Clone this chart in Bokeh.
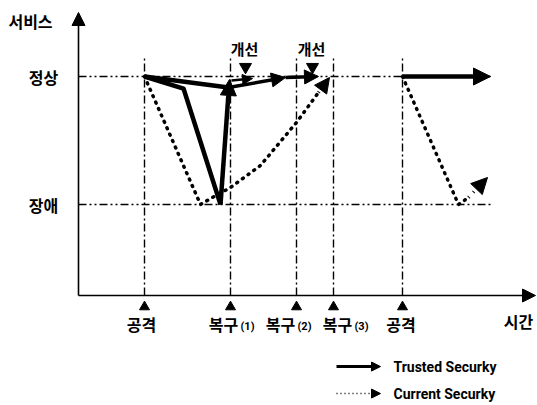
from bokeh.plotting import figure
from bokeh.models import Range1d, Arrow, NormalHead, ColumnDataSource
from bokeh.core.properties import value
from bokeh.embed import file_html
from bokeh.resources import INLINE

# ---------------- data (time units, service level: 1 = 정상, 0 = 장애) ----------------
event_t = [6.6, 15.2, 21.8, 25.5, 32.4]
event_names = ["공격", "복구", "복구", "복구", "공격"]
event_subs = ["", "(1)", "(2)", "(3)", ""]
improve_t = [16.7, 23.4]
improve_labels = ["개선", "개선"]
level_names = ["정상", "장애"]
level_values = [1.0, 0.0]

trusted_fall_t = [6.6, 10.5, 14.2]
trusted_fall_y = [1.0, 0.906, 0.0]
trusted_recover_t = [14.2, 15.1]
trusted_recover_y = [0.0, 0.977]
trusted_drift_t = [6.6, 15.0]
trusted_drift_y = [1.0, 0.914]
trusted_improve_t = [15.0, 20.7, 24.0]
trusted_improve_y = [0.914, 0.992, 1.0]
trusted_small_t = [15.3, 17.4]
trusted_small_y = [0.969, 0.984]
trusted_after_t = [32.4, 41.2]
trusted_after_y = [1.0, 1.0]

current_t = [6.6, 12.2, 13.4, 15.2, 18.2, 21.8, 24.0, 25.1]
current_y = [1.0, 0.0, 0.055, 0.133, 0.305, 0.641, 0.875, 0.992]
current2_t = [32.4, 38.0, 39.0, 40.9]
current2_y = [1.0, 0.0, 0.055, 0.211]

legend_names = ["Trusted Securky", "Current Securky"]

# ---------------- layout constants ----------------
AX_Y = -0.711        # x-axis baseline level
AX_TOP = 1.50        # y-axis arrow tip
AX_RIGHT = 45.7      # x-axis arrow tip
REF_END = 41.4       # end of reference dash-dot lines
VLINE_TOP = 1.164
TRI_UP_Y = -0.80
TRI_DN_Y = 1.075
LABEL_Y = -0.935
KFONT = value("Noto Sans CJK KR")
LFONT = value("Roboto")

p = figure(width=537, height=405, x_range=Range1d(-7.8, 45.9),
           y_range=Range1d(-1.5703, 1.5938), x_axis_type=None, y_axis_type=None,
           output_backend="svg", toolbar_location=None, min_border=0)
p.grid.visible = False
p.outline_line_color = None
p.background_fill_color = "white"


def arrow(t, y, width, dash="solid", headsize=16):
    src = ColumnDataSource(dict(x0=[t[-2]], y0=[y[-2]], x1=[t[-1]], y1=[y[-1]]))
    p.add_layout(Arrow(source=src, x_start="x0", y_start="y0", x_end="x1", y_end="y1",
                       line_width=width, line_color="black", line_dash=dash,
                       end=NormalHead(size=headsize, fill_color="black", line_color="black",
                                      line_width=1, line_dash="solid")))

# reference lines (levels)
for lv in level_values:
    p.line([0, REF_END], [lv, lv], line_color="black", line_width=1.4,
           line_dash="8 3 2 3 2 3")
# event vertical lines
for t in event_t:
    p.line([t, t], [AX_Y, VLINE_TOP], line_color="black", line_width=1.4,
           line_dash="8 3 2 3")

# axes
p.line([0, 0], [AX_Y, AX_TOP - 0.08], line_color="black", line_width=1.6)
arrow([0, 0], [AX_TOP - 0.1, AX_TOP], 1.6, headsize=13)
p.line([0, AX_RIGHT - 1], [AX_Y, AX_Y], line_color="black", line_width=1.6)
arrow([AX_RIGHT - 1.2, AX_RIGHT], [AX_Y, AX_Y], 1.6, headsize=13)

# Trusted security (thick solid)
p.line(trusted_fall_t, trusted_fall_y, line_color="black", line_width=4.5, line_join="round")
p.line(trusted_drift_t, trusted_drift_y, line_color="black", line_width=4.5, line_join="round")
arrow(trusted_recover_t, trusted_recover_y, 4.5, headsize=16)
arrow(trusted_improve_t[:2], trusted_improve_y[:2], 3.5, headsize=14)
arrow(trusted_improve_t[1:], trusted_improve_y[1:], 3.5, headsize=14)
arrow(trusted_small_t, trusted_small_y, 2.5, headsize=10)
arrow(trusted_after_t, trusted_after_y, 4.5, headsize=17)

# Current security (dotted)
p.line(current_t[:-1], current_y[:-1], line_color="black", line_width=3.5,
       line_dash="1 6", line_cap="round", line_join="round")
arrow(current_t[-2:], current_y[-2:], 3.5, dash="1 6", headsize=15)
p.line(current2_t[:-1], current2_y[:-1], line_color="black", line_width=3.5,
       line_dash="1 6", line_cap="round", line_join="round")
arrow(current2_t[-2:], current2_y[-2:], 3.5, dash="1 6", headsize=16)

# markers
p.scatter(event_t, [TRI_UP_Y] * len(event_t), marker="triangle", size=10,
          color="black")
p.scatter(improve_t, [TRI_DN_Y] * len(improve_t), marker="inverted_triangle", size=12,
          color="black")

# texts
label_dx = [-0.3, -0.7, -1.6, 0.4, -0.15]
main_x = [t + d for t, d in zip(event_t, label_dx)]
p.text(main_x, [LABEL_Y] * 5, text=event_names, text_font=KFONT,
       text_font_size="16px", text_font_style="bold", text_align="center",
       text_baseline="middle", text_color="black")
sub_x = [m + 1.7 for m in main_x]
p.text(sub_x[1:4], [LABEL_Y - 0.02] * 3, text=event_subs[1:4], text_font=LFONT,
       text_font_size="11px", text_font_style="bold", text_align="left",
       text_baseline="middle", text_color="black")
p.text([-3.5, -3.5], level_values, text=level_names, text_font=KFONT,
       text_font_size="16px", text_font_style="bold", text_align="center",
       text_baseline="middle", text_color="black")
p.text([-4.8], [1.43], text=["서비스"], text_font=KFONT, text_font_size="16px",
       text_font_style="bold", text_align="center", text_baseline="middle",
       text_color="black")
p.text([44.0], [-0.91], text=["시간"], text_font=KFONT, text_font_size="16px",
       text_font_style="bold", text_align="center", text_baseline="middle",
       text_color="black")
p.text([t - 0.1 for t in improve_t], [1.22, 1.22], text=improve_labels, text_font=KFONT,
       text_font_size="15px", text_font_style="bold", text_align="center",
       text_baseline="middle", text_color="black")

# legend
LEG_X0, LEG_X1, LEG_TX = 25.8, 30.2, 31.5
LEG_Y = [-1.266, -1.477]
arrow([LEG_X0, LEG_X1], [LEG_Y[0], LEG_Y[0]], 3, headsize=9)
arrow([LEG_X0, LEG_X1], [LEG_Y[1], LEG_Y[1]], 1.5, dash="1 3", headsize=9)
p.text([LEG_TX, LEG_TX], LEG_Y, text=legend_names, text_font=LFONT,
       text_font_size="14px", text_font_style="bold", text_align="left",
       text_baseline="middle", text_color="black")

open("out.html", "w").write(file_html(p, INLINE))
